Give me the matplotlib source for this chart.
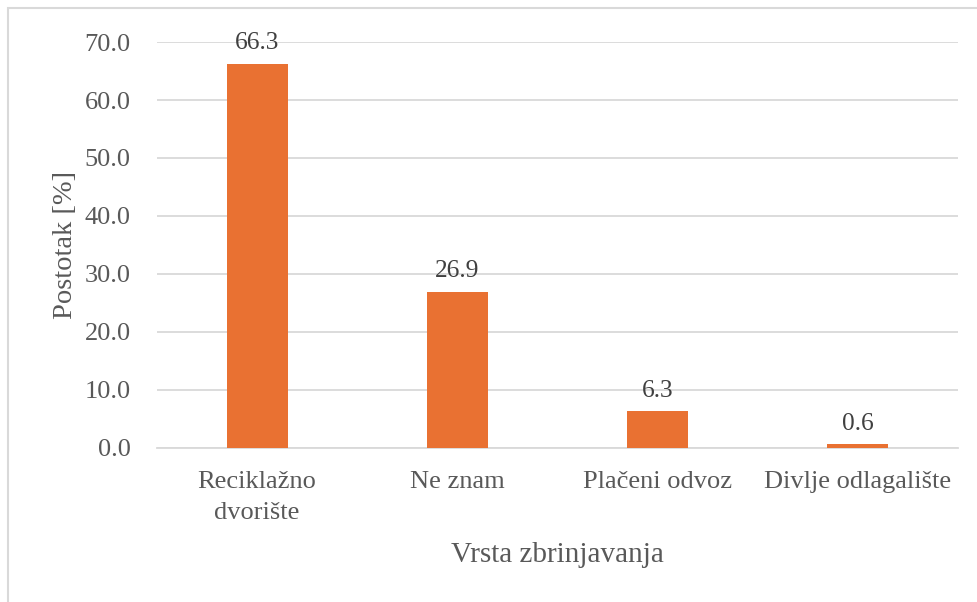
import matplotlib.pyplot as plt
from matplotlib.patches import Rectangle

# Data
categories = ["Reciklažno\ndvorište", "Ne znam", "Plačeni odvoz", "Divlje odlagalište"]
values = [66.3, 26.9, 6.3, 0.6]
yticks = [0, 10, 20, 30, 40, 50, 60, 70]

plt.rcParams["font.family"] = ["Liberation Serif", "DejaVu Serif"]
text_color = "#595959"

fig = plt.figure(figsize=(9.78, 6.02), dpi=100)
ax = fig.add_axes([0.1605, 0.2566, 0.819, 0.6735])

x = range(len(categories))
bars = ax.bar(x, values, width=0.305, color="#E97132", zorder=3)

for xi, v in zip(x, values):
    ax.text(xi, v + 1.6, f"{v:.1f}", ha="center", va="bottom",
            fontsize=18.3, color="#404040")

ax.set_xlim(-0.5, len(categories) - 0.5)
ax.set_ylim(0, 70)
ax.set_yticks(yticks)
ax.set_yticklabels([f"{t:.1f}" for t in yticks])
ax.set_xticks(list(x))
ax.set_xticklabels(categories, linespacing=1.5)

ax.grid(axis="y", color="#D9D9D9", linewidth=1.3, zorder=0)
for side in ["top", "right", "left"]:
    ax.spines[side].set_visible(False)
ax.spines["bottom"].set_color("#D9D9D9")
ax.spines["bottom"].set_linewidth(1.3)
ax.tick_params(axis="both", length=0, labelsize=19, labelcolor=text_color)
ax.tick_params(axis="y", pad=19)
ax.tick_params(axis="x", pad=17)

ax.set_xlabel("Vrsta zbrinjavanja", fontsize=21, color=text_color, labelpad=13)
ax.set_ylabel("Postotak [%]", fontsize=20.5, color=text_color, labelpad=5)

# outer frame (top and left visible)
fig.patches.append(Rectangle((8 / 978, -0.1), 1.2, (594 / 602) + 0.1,
                             transform=fig.transFigure, fill=False,
                             edgecolor="#D9D9D9", linewidth=1.5))

plt.savefig("out.png", dpi=100)
